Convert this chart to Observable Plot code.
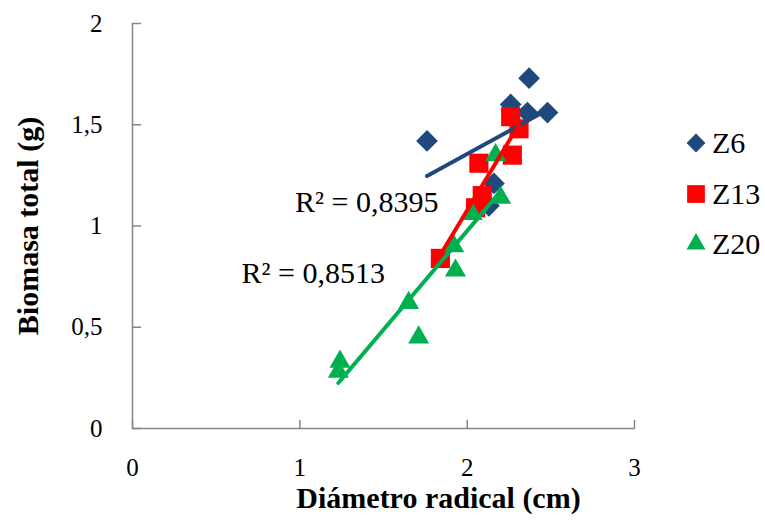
<!DOCTYPE html>
<html>
<head>
<meta charset="utf-8">
<script src="https://cdn.jsdelivr.net/npm/d3@7"></script>
<script src="https://cdn.jsdelivr.net/npm/@observablehq/plot@0.6"></script>
<style>
  html, body { margin: 0; padding: 0; background: #fff; }
  #wrap { position: relative; width: 765px; height: 527px; }
  #legend { position: absolute; left: 684px; top: 118px; font-family: "Liberation Serif", "Times New Roman", serif; font-size: 30px; color: #000; }
  #legend .item { display: flex; align-items: center; height: 50.5px; }
  #legend svg { margin-right: 4px; }
</style>
</head>
<body>
<div id="wrap"><div id="legend"></div></div>
<script>
// ---- data ----
const seriesNames = ["Z6", "Z13", "Z20"];
const seriesColors = ["#1f497d", "#ff0000", "#00b050"];
const seriesSymbols = ["diamond2", "square", "triangle"];

const z6X = [1.76, 2.16, 2.13, 2.26, 2.36, 2.48, 2.37];
const z6Y = [1.42, 1.21, 1.10, 1.60, 1.56, 1.56, 1.73];

const z13X = [1.84, 2.05, 2.09, 2.07, 2.27, 2.31, 2.26];
const z13Y = [0.84, 1.09, 1.15, 1.31, 1.35, 1.48, 1.54];

const z20X = [1.23, 1.24, 1.65, 1.71, 1.93, 1.92, 2.03, 2.20, 2.17];
const z20Y = [0.28, 0.33, 0.62, 0.45, 0.78, 0.90, 1.06, 1.14, 1.35];

const xTicks = [0, 1, 2, 3];
const yTicks = [0, 0.5, 1, 1.5, 2];
const yTickLabels = ["0", "0,5", "1", "1,5", "2"];

const r2Text = ["R² = 0,8395", "R² = 0,8513"];
const r2X = [1.40, 1.08];
const r2Y = [1.115, 0.765];

const xTitle = "Diámetro radical (cm)";
const yTitle = "Biomasa total (g)";

// ---- build tables ----
const toRows = (xs, ys, s) => xs.map((x, i) => ({x, y: ys[i], s}));
const z6 = toRows(z6X, z6Y, "Z6");
const z13 = toRows(z13X, z13Y, "Z13");
const z20 = toRows(z20X, z20Y, "Z20");
const r2 = r2Text.map((t, i) => ({t, x: r2X[i], y: r2Y[i]}));

const axisGray = "#868686";
const tickShape = { draw(ctx, l) { ctx.moveTo(0, 0); ctx.lineTo(0, -l); } };

const chart = Plot.plot({
  width: 765,
  height: 527,
  marginLeft: 132,
  marginRight: 131,
  marginTop: 23,
  marginBottom: 99,
  x: { domain: [0, 3] },
  y: { domain: [0, 2] },
  style: { fontFamily: "'Liberation Serif', 'Times New Roman', serif", fontSize: "25px", color: "#000", background: "transparent", overflow: "visible" },
  marks: [
    Plot.ruleX([0], { stroke: axisGray, strokeWidth: 1.5 }),
    Plot.ruleY([0], { stroke: axisGray, strokeWidth: 1.5 }),
    Plot.vector(yTicks, { x: 0, y: d => d, length: 8, rotate: 90, anchor: "start", shape: tickShape, stroke: axisGray, strokeWidth: 1.5 }),
    Plot.vector(xTicks, { x: d => d, y: 0, length: 8, rotate: 0, anchor: "start", shape: tickShape, stroke: axisGray, strokeWidth: 1.5 }),
    Plot.axisY(yTicks, { tickSize: 0, tickPadding: 30, tickFormat: (d) => yTickLabels[yTicks.indexOf(d)], label: null, fill: "#000" }),
    Plot.axisX(xTicks, { tickSize: 0, tickPadding: 30, tickFormat: d => String(d), label: null, fill: "#000" }),
    Plot.text([yTitle], { frameAnchor: "left", textAnchor: "middle", rotate: -90, dx: -104, fontWeight: "bold", fontSize: 30, fill: "#000" }),
    Plot.text([xTitle], { frameAnchor: "bottom", textAnchor: "middle", dx: 55, dy: 79, fontWeight: "bold", fontSize: 30, fill: "#000" }),
    Plot.dot(z6, { x: "x", y: "y", symbol: "diamond2", r: 9.8, fill: seriesColors[0], stroke: null }),
    Plot.dot(z13, { x: "x", y: "y", symbol: "square", r: 10.8, fill: seriesColors[1], stroke: null }),
    Plot.dot(z20, { x: "x", y: "y", symbol: "triangle", r: 7.8, fill: seriesColors[2], stroke: null }),
    Plot.linearRegressionY(z6, { x: "x", y: "y", stroke: seriesColors[0], strokeWidth: 4, ci: 0 }),
    Plot.linearRegressionY(z13, { x: "x", y: "y", stroke: seriesColors[1], strokeWidth: 4, ci: 0 }),
    Plot.linearRegressionY(z20, { x: "x", y: "y", stroke: seriesColors[2], strokeWidth: 4, ci: 0 }),
    Plot.text(r2, { x: "x", y: "y", text: "t", fontSize: 30, fill: "#000" })
  ]
});
document.getElementById("wrap").prepend(chart);

// ---- legend ----
const legend = d3.select("#legend");
const symMap = { diamond2: d3.symbolDiamond2, square: d3.symbolSquare, triangle: d3.symbolTriangle };
const symSize = { diamond2: Math.PI * 8.5 * 8.5, square: Math.PI * 10 * 10, triangle: Math.PI * 7 * 7 };
seriesNames.forEach((name, i) => {
  const item = legend.append("div").attr("class", "item");
  const svg = item.append("svg").attr("width", 24).attr("height", 24);
  svg.append("path")
    .attr("transform", "translate(12,12)")
    .attr("d", d3.symbol(symMap[seriesSymbols[i]], symSize[seriesSymbols[i]])())
    .attr("fill", seriesColors[i]);
  item.append("span").text(name);
});
</script>
</body>
</html>
